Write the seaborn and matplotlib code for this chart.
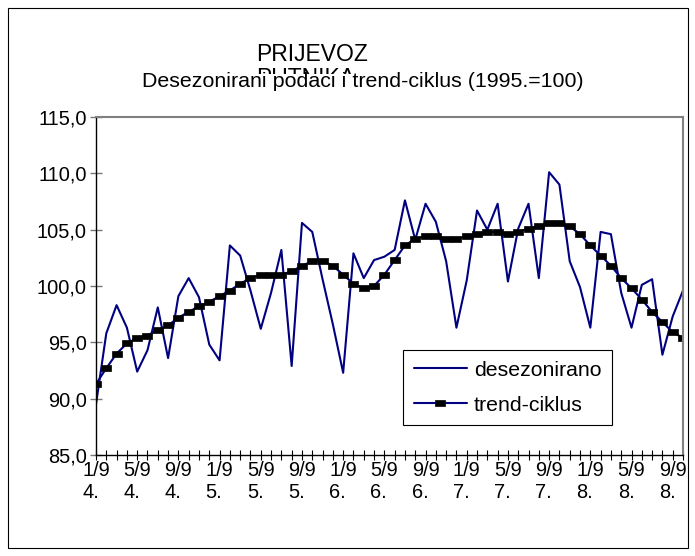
import numpy as np
import pandas as pd
import matplotlib
matplotlib.use("Agg")
import matplotlib.pyplot as plt
from matplotlib.patches import Rectangle
from matplotlib.ticker import FixedLocator, FuncFormatter
import seaborn as sns

# Podaci: mjesečno, 1/94. - 10/98.
desezonirano = [89.5, 95.8, 98.3, 96.3, 92.4, 94.3, 98.1, 93.6, 99.1, 100.7, 99.0, 94.8,
                93.4, 103.6, 102.7, 99.6, 96.2, 99.4, 103.2, 92.9, 105.6, 104.8, 100.6, 96.6,
                92.3, 102.9, 100.7, 102.3, 102.6, 103.2, 107.6, 104.1, 107.3, 105.7, 102.2, 96.3,
                100.5, 106.7, 105.0, 107.3, 100.4, 105.1, 107.3, 100.7, 110.1, 109.0, 102.2, 99.9,
                96.3, 104.8, 104.6, 99.4, 96.3, 100.1, 100.6, 93.9, 97.3, 99.6]
trend_ciklus = [91.3, 92.7, 94.0, 94.9, 95.4, 95.6, 96.1, 96.5, 97.2, 97.7, 98.2, 98.6,
                99.1, 99.6, 100.2, 100.7, 101.0, 101.0, 101.0, 101.3, 101.8, 102.2, 102.2, 101.8,
                101.0, 100.2, 99.8, 100.0, 101.0, 102.3, 103.6, 104.2, 104.4, 104.4, 104.2, 104.2,
                104.4, 104.6, 104.8, 104.8, 104.6, 104.8, 105.1, 105.3, 105.6, 105.6, 105.3, 104.6,
                103.6, 102.7, 101.8, 100.7, 99.8, 98.8, 97.7, 96.8, 95.9, 95.4]
x_labels = ["1/9\n4.", "5/9\n4.", "9/9\n4.", "1/9\n5.", "5/9\n5.", "9/9\n5.",
            "1/9\n6.", "5/9\n6.", "9/9\n6.", "1/9\n7.", "5/9\n7.", "9/9\n7.",
            "1/9\n8.", "5/9\n8.", "9/9\n8."]
y_ticks = [85, 90, 95, 100, 105, 110, 115]

mjesec = np.arange(len(desezonirano))
df = pd.DataFrame({"mjesec": mjesec, "desezonirano": desezonirano, "trend": trend_ciklus})

sns.set_style("white")
plt.rcParams["font.family"] = ["Liberation Sans", "DejaVu Sans"]
plt.rcParams["text.color"] = "black"
plt.rcParams["xtick.labelcolor"] = "black"
plt.rcParams["ytick.labelcolor"] = "black"

W, H = 695, 556
fig = plt.figure(figsize=(W / 100, H / 100), dpi=100)
ax = fig.add_axes([96 / W, 1 - 455 / H, (683 - 96) / W, (455 - 117) / H])

navy = "#000080"
sns.lineplot(data=df, x="mjesec", y="desezonirano", ax=ax, color=navy, lw=1.5,
             label="desezonirano")
rect_marker = [(-1.4, -1), (1.4, -1), (1.4, 1), (-1.4, 1), (-1.4, -1)]
sns.lineplot(data=df, x="mjesec", y="trend", ax=ax, color=navy, lw=1.5,
             marker=rect_marker, markersize=6.5, markerfacecolor="black",
             markeredgecolor="black", markeredgewidth=0.5, label="trend-ciklus")

ax.set_xlim(0, len(mjesec) - 1)
ax.set_ylim(85, 115)
ax.set_xlabel("")
ax.set_ylabel("")

# osi
ax.yaxis.set_major_locator(FixedLocator(y_ticks))
ax.yaxis.set_major_formatter(FuncFormatter(lambda v, p: f"{v:.1f}".replace(".", ",")))
ax.xaxis.set_major_locator(FixedLocator(mjesec[::4]))
ax.xaxis.set_minor_locator(FixedLocator(mjesec))
ax.set_xticklabels(x_labels, multialignment="left")
ax.tick_params(axis="y", which="major", direction="inout", length=9, width=1,
               color="#777777", labelcolor="black", labelsize=14.4, pad=2, left=True)
ax.tick_params(axis="x", which="both", direction="inout", length=7, width=0.8,
               color="black", labelcolor="black", labelsize=14.4, pad=1, bottom=True)
ax.tick_params(axis="x", which="minor", labelbottom=False)

for s in ["left", "bottom"]:
    ax.spines[s].set_color("black")
    ax.spines[s].set_linewidth(1)
for s in ["top", "right"]:
    ax.spines[s].set_color("#808080")
    ax.spines[s].set_linewidth(1.5)

leg = ax.legend(loc="upper left", bbox_to_anchor=(403 / W, 1 - 350 / H),
                bbox_transform=fig.transFigure, fancybox=False, framealpha=1,
                edgecolor="black", fontsize=15.3, handlelength=2.5,
                handletextpad=0.33, labelspacing=0.76, borderpad=0.5, borderaxespad=0)
leg.get_frame().set_linewidth(0.8)
for t in leg.get_texts():
    t.set_color("black")

# naslovi
fig.text(312.5 / W, 1 - 60.7 / H, "PRIJEVOZ", ha="center", va="baseline", fontsize=16.5)
fig.text(306 / W, 1 - 85.2 / H, "PUTNIKA", ha="center", va="baseline", fontsize=16.5)
fig.patches.append(Rectangle((138 / W, 1 - 92 / H), 452 / W, 18 / H,
                             transform=fig.transFigure, facecolor="white",
                             edgecolor="none", zorder=4))
fig.text(362.5 / W, 1 - 86.7 / H, "Desezonirani podaci i trend-ciklus (1995.=100)",
         ha="center", va="baseline", fontsize=15.4, zorder=5)

# okvir grafikona
fig.patches.append(Rectangle((8 / W, 8 / H), 680 / W, 540 / H, transform=fig.transFigure,
                             fill=False, edgecolor="black", lw=0.8, zorder=0))

plt.savefig("out.png", dpi=100)
